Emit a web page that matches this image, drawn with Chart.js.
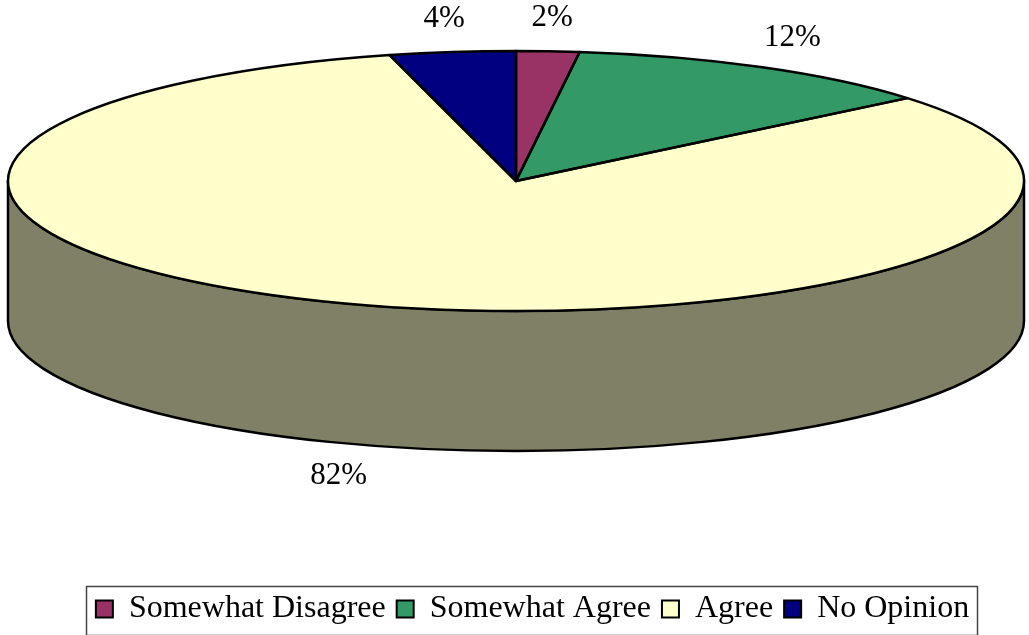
<!DOCTYPE html>
<html>
<head>
<meta charset="utf-8">
<script src="https://cdn.jsdelivr.net/npm/chart.js@4/dist/chart.umd.min.js"></script>
<style>
  html, body { margin: 0; padding: 0; background: #fff; }
  #wrap { width: 1029px; height: 635px; position: relative; }
</style>
</head>
<body>
<div id="wrap"><canvas id="chart"></canvas></div>
<script>
const labels = ['Somewhat Disagree', 'Somewhat Agree', 'Agree', 'No Opinion'];
const values = [2, 12, 82, 4];
const colors = ['#993366', '#339966', '#FFFFCC', '#000080'];

// look of the fake 3d pie
const TILT = 130 / 508;    // vertical / horizontal radius
const DEPTH = 140 / 508;   // side height / horizontal radius
const FONT = '"Liberation Serif", "Times New Roman", serif';

function darker(hex, f) {
  const n = parseInt(hex.slice(1), 16);
  const r = Math.round(((n >> 16) & 255) * f);
  const g = Math.round(((n >> 8) & 255) * f);
  const b = Math.round((n & 255) * f);
  return `rgb(${r},${g},${b})`;
}

// pie spans the canvas width less a small margin, legend is laid out separately
function geom(chart) {
  const left = 8, right = chart.width - 5;
  const rx = (right - left) / 2;
  const ry = rx * TILT;
  return { cx: (left + right) / 2, cy: chart.chartArea.top + ry, rx, ry, depth: rx * DEPTH };
}

const pie3d = {
  id: 'pie3d',
  beforeDatasetsDraw(chart) {
    const ctx = chart.ctx;
    const g = geom(chart);
    const arcs = chart.getDatasetMeta(0).data;
    ctx.save();
    ctx.lineWidth = 2.5;
    ctx.lineJoin = 'round';
    ctx.strokeStyle = '#000';

    // side walls, only the front half shows
    arcs.forEach((arc, i) => {
      const p = arc.getProps(['startAngle', 'endAngle']);
      const s = Math.max(p.startAngle, 0), e = Math.min(p.endAngle, Math.PI);
      if (e <= s) return;
      ctx.beginPath();
      ctx.ellipse(g.cx, g.cy, g.rx, g.ry, 0, s, e);
      ctx.lineTo(g.cx + g.rx * Math.cos(e), g.cy + g.depth + g.ry * Math.sin(e));
      ctx.ellipse(g.cx, g.cy + g.depth, g.rx, g.ry, 0, e, s, true);
      ctx.closePath();
      ctx.fillStyle = darker(colors[i], 0.5);
      ctx.fill();
      ctx.stroke();
    });

    // top faces: let the library draw the arcs, squashed
    arcs.forEach(arc => {
      const p = arc.getProps(['x', 'y', 'outerRadius']);
      ctx.save();
      ctx.translate(g.cx, g.cy);
      ctx.scale(g.rx / p.outerRadius, g.ry / p.outerRadius);
      ctx.translate(-p.x, -p.y);
      arc.draw(ctx);
      ctx.restore();
    });

    // outlines in screen space
    arcs.forEach(arc => {
      const p = arc.getProps(['startAngle', 'endAngle']);
      ctx.beginPath();
      ctx.moveTo(g.cx, g.cy);
      ctx.ellipse(g.cx, g.cy, g.rx, g.ry, 0, p.startAngle, p.endAngle);
      ctx.closePath();
      ctx.stroke();
    });

    // percent labels
    const total = values.reduce((a, b) => a + b, 0);
    ctx.fillStyle = '#000';
    ctx.font = '31px ' + FONT;
    ctx.textAlign = 'center';
    ctx.textBaseline = 'middle';
    arcs.forEach((arc, i) => {
      const p = arc.getProps(['startAngle', 'endAngle']);
      const m = (p.startAngle + p.endAngle) / 2;
      const x = g.cx + (g.rx + 66) * Math.cos(m);
      let y = g.cy + (g.ry + 33) * Math.sin(m);
      if (Math.sin(m) > 0) y += g.depth;
      ctx.fillText(Math.round(values[i] / total * 100) + '%', x, y);
    });
    ctx.restore();
    return false;
  },
  afterDraw(chart) {
    // frame round the legend
    const boxes = chart.legend.legendHitBoxes;
    if (!boxes || !boxes.length) return;
    const first = boxes[0], last = boxes[boxes.length - 1];
    const ctx = chart.ctx;
    ctx.save();
    ctx.strokeStyle = '#444';
    ctx.lineWidth = 1.5;
    const l = first.left - 10, r = last.left + last.width + 8;
    const t = first.top - 7, b = first.top + first.height + 10;
    ctx.strokeRect(Math.round(l) + 0.5, Math.round(t) + 0.5, Math.round(r - l), Math.round(b - t));
    ctx.restore();
  }
};

new Chart(document.getElementById('chart'), {
  type: 'pie',
  data: {
    labels: labels,
    datasets: [{
      data: values,
      backgroundColor: colors,
      borderWidth: 0,
    }],
  },
  options: {
    responsive: true,
    maintainAspectRatio: false,
    animation: false,
    layout: { padding: { top: 51, left: 42, right: 6, bottom: 0 } },
    plugins: {
      tooltip: { enabled: false },
      legend: {
        position: 'bottom',
        labels: {
          boxWidth: 17,
          boxHeight: 17,
          padding: 11,
          color: '#000',
          font: { family: FONT, size: 32 },
          generateLabels: () => labels.map((t, i) => ({
            text: t, fillStyle: colors[i], strokeStyle: '#000', lineWidth: 2,
            hidden: false, index: i, fontColor: '#000',
          })),
        },
      },
    },
  },
  plugins: [pie3d],
});
</script>
</body>
</html>
